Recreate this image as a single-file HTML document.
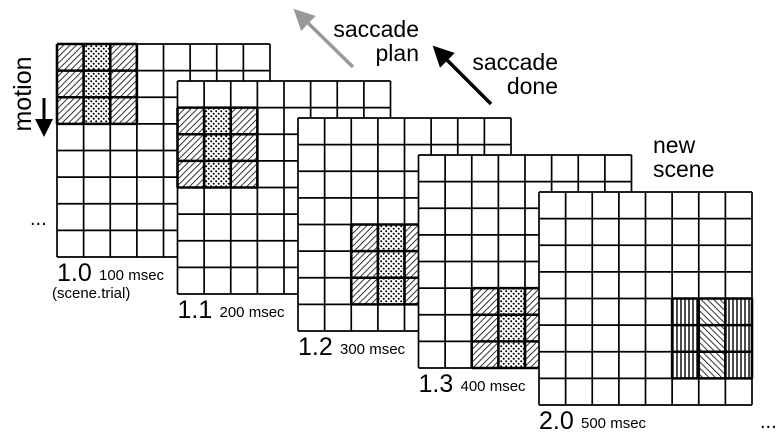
<!DOCTYPE html>
<html><head><meta charset="utf-8"><style>
body{margin:0;background:#fff;}
svg{display:block;font-family:"Liberation Sans",sans-serif;}
</style></head><body>
<svg id="fig" width="782" height="442" viewBox="0 0 782 442">
<defs>
<pattern id="hatch" patternUnits="userSpaceOnUse" width="4.5" height="4.5" patternTransform="rotate(45)">
<rect width="4.5" height="4.5" fill="#fff"/><line x1="0" y1="0" x2="0" y2="4.5" stroke="#000" stroke-width="1.6"/></pattern>
<pattern id="bhatch" patternUnits="userSpaceOnUse" width="4.5" height="4.5" patternTransform="rotate(-45)">
<rect width="4.5" height="4.5" fill="#fff"/><line x1="0" y1="0" x2="0" y2="4.5" stroke="#000" stroke-width="1.6"/></pattern>
<pattern id="vert" patternUnits="userSpaceOnUse" width="4" height="4">
<rect width="4" height="4" fill="#fff"/><line x1="1" y1="0" x2="1" y2="4" stroke="#000" stroke-width="1.4"/></pattern>
<pattern id="dots" patternUnits="userSpaceOnUse" width="5" height="5">
<rect width="5" height="5" fill="#fff"/><circle cx="1.2" cy="1.2" r="1" fill="#000"/><circle cx="3.7" cy="3.7" r="1" fill="#000"/></pattern>
<marker id="ahg" markerWidth="6" markerHeight="6" refX="1" refY="3" orient="auto" markerUnits="strokeWidth"><path d="M0,0 L6,3 L0,6 z" fill="#999"/></marker>
<marker id="ahb" markerWidth="6" markerHeight="6" refX="1" refY="3" orient="auto" markerUnits="strokeWidth"><path d="M0,0 L6,3 L0,6 z" fill="#000"/></marker>
</defs>
<g id="grids"></g>
<line x1="353" y1="67" x2="306" y2="21" stroke="#999" stroke-width="3.5" marker-end="url(#ahg)"/>
<text x="419" y="37" font-size="23" text-anchor="end"><tspan x="419">saccade</tspan><tspan x="419" dy="24">plan</tspan></text>
<line x1="491" y1="104" x2="445" y2="58" stroke="#000" stroke-width="3.5" marker-end="url(#ahb)"/>
<text x="558" y="70" font-size="23" text-anchor="end"><tspan x="558">saccade</tspan><tspan x="558" dy="24">done</tspan></text>
<text x="653" y="153" font-size="23"><tspan x="653">new</tspan><tspan x="653" dy="24">scene</tspan></text>
<text transform="translate(31,94) rotate(-90)" font-size="25" text-anchor="middle">motion</text>
<line x1="44" y1="98" x2="44" y2="122" stroke="#000" stroke-width="3" marker-end="url(#ahb)"/>
<text x="30" y="225" font-size="20">...</text>
<text x="760" y="428" font-size="20">...</text>
<text x="52" y="298" font-size="15">(scene.trial)</text>
</svg>
<script>
const frameLabels = ["1.0","1.1","1.2","1.3","2.0"];
const frameTimes = ["100 msec","200 msec","300 msec","400 msec","500 msec"];
const blockCol = [0,0,2,2,5];
const blockRow = [0,1,4,5,4];
const blockPatterns = [["hatch","dots","hatch"],["hatch","dots","hatch"],["hatch","dots","hatch"],["hatch","dots","hatch"],["vert","bhatch","vert"]];
const NS="http://www.w3.org/2000/svg";
const g=document.getElementById('grids');
const N=8, S=213, cs=S/8;
function mk(t,a){const e=document.createElementNS(NS,t);for(const k in a)e.setAttribute(k,a[k]);return e;}
frameLabels.forEach((lab,i)=>{
  const x0=57+i*120.5, y0=44+i*37;
  const fg=mk('g',{});
  
  
  fg.appendChild(mk('rect',{x:x0,y:y0,width:S,height:S,fill:'#fff'}));
  for(let r=0;r<3;r++)for(let c=0;c<3;c++){
    const cell=mk('rect',{x:x0+(blockCol[i]+c)*cs,y:y0+(blockRow[i]+r)*cs,width:cs,height:cs,fill:'url(#'+blockPatterns[i][c]+')'});
    
    
    fg.appendChild(cell);
  }
  for(let k=0;k<=N;k++){
    fg.appendChild(mk('line',{x1:x0+k*cs,y1:y0,x2:x0+k*cs,y2:y0+S,stroke:'#000','stroke-width':1.7}));
    fg.appendChild(mk('line',{x1:x0,y1:y0+k*cs,x2:x0+S,y2:y0+k*cs,stroke:'#000','stroke-width':1.7}));
  }
  for(let k=0;k<=3;k++){
    fg.appendChild(mk('line',{x1:x0+(blockCol[i]+k)*cs,y1:y0+blockRow[i]*cs,x2:x0+(blockCol[i]+k)*cs,y2:y0+(blockRow[i]+3)*cs,stroke:'#000','stroke-width':2.6}));
    fg.appendChild(mk('line',{x1:x0+blockCol[i]*cs,y1:y0+(blockRow[i]+k)*cs,x2:x0+(blockCol[i]+3)*cs,y2:y0+(blockRow[i]+k)*cs,stroke:'#000','stroke-width':2.6}));
  }
  const t=mk('text',{x:x0,y:y0+S+24,'font-size':25});
  t.textContent=lab;
  
  
  fg.appendChild(t);
  const tm=mk('text',{x:x0+42,y:y0+S+23,'font-size':15});
  tm.textContent=frameTimes[i];
  
  
  fg.appendChild(tm);
  g.appendChild(fg);
});
</script>
</body></html>
